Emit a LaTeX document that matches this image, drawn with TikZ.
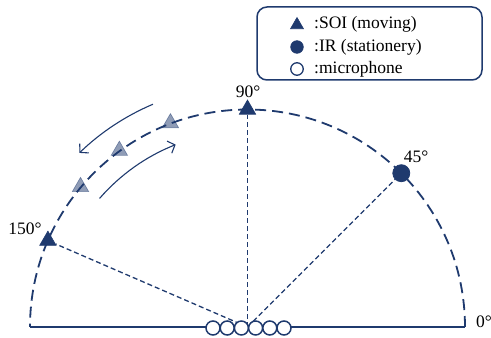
\documentclass[tikz,border=0pt]{standalone}
\usepackage{fontspec}
\setmainfont{Liberation Serif}
\usetikzlibrary{shapes.geometric,arrows.meta,calc}
\definecolor{navy}{HTML}{1F3A6E}
\tikzset{
  soi/.style={regular polygon,regular polygon sides=3,minimum size=19pt,inner sep=0pt,fill=navy,draw=navy,line width=0.6pt},
  soifade/.style={soi,fill=navy,draw=navy,opacity=0.5},
  ir/.style={circle,minimum size=17pt,inner sep=0pt,fill=navy,draw=navy,line width=0.8pt},
  mic/.style={circle,minimum size=14pt,inner sep=0pt,fill=white,draw=navy,line width=1.5pt},
  radial/.style={draw=navy,line width=1.3pt,dash pattern=on 5pt off 3pt},
  arcline/.style={draw=navy,line width=1.8pt,dash pattern=on 11pt off 6pt},
  base/.style={draw=navy,line width=1.8pt},
  movearr/.style={draw=navy,line width=1.1pt,-{Straight Barb[length=6pt,width=13pt,line width=1.1pt]}},
  lbl/.style={font=\fontsize{17.5}{20}\selectfont,inner sep=0pt},
  legendbox/.style={draw=navy,line width=1.5pt,rounded corners=10pt},
}
\begin{document}
\begin{tikzpicture}[x=1pt,y=1pt]
\useasboundingbox (0,0) rectangle (491,338);
\coordinate (O) at (247.5,11);
\coordinate (L) at (30,11);
\coordinate (R) at (465,11);
% baseline
\draw[base] (L) -- (R);
% arc
\draw[arcline] (R) arc[start angle=0,end angle=180,radius=217.5];
% SOI and IR
\node[soi] (t90) at ([shift={(90:217.5)}]O) {};
\node[soi] (t150) at ([shift={(156.6:217.5)}]O) {};
\node[ir] (c45) at ([shift={(45:217.5)}]O) {};
\node[soifade] (f1) at ([shift={(140:218)}]O) {};
\node[soifade] (f2) at ([shift={(126:218)}]O) {};
\node[soifade] (f3) at ([shift={(110.7:218)}]O) {};
% radial lines
\draw[radial] (O) -- (t90);
\draw[radial] (O) -- (t150);
\draw[radial] (O) -- (c45);
% mics
\foreach \k in {0,...,5}{
  \node[mic] (m\k) at (213+14.2*\k,10) {};
}
% movement arrows
\coordinate (a1) at ([shift={(113:242)}]O);
\coordinate (a2) at ([shift={(139:196)}]O);
\draw[movearr] (a1) arc[start angle=113,end angle=134,radius=242];
\draw[movearr] (a2) arc[start angle=139,end angle=111.5,radius=196];
% labels
\node[lbl] (l90) at (248,246) {90°};
\node[lbl] (l45) at (416,181) {45°};
\node[lbl] (l150) at (25,109) {150°};
\node[lbl] (l0) at (484,16) {0°};
% legend
\draw[legendbox] (257,258) rectangle (482,331);
\node[soi,minimum size=15pt] (ls) at (297,313) {};
\node[ir,minimum size=12.5pt] (li) at (297,291) {};
\node[mic,minimum size=12.5pt,line width=1.3pt] (lm) at (297,269) {};
\node[lbl,anchor=west] (lst) at (314,314) {:SOI (moving)};
\node[lbl,anchor=west] (lit) at (314,291) {:IR (stationery)};
\node[lbl,anchor=west] (lmt) at (314,269) {:microphone};
\end{tikzpicture}
\end{document}
